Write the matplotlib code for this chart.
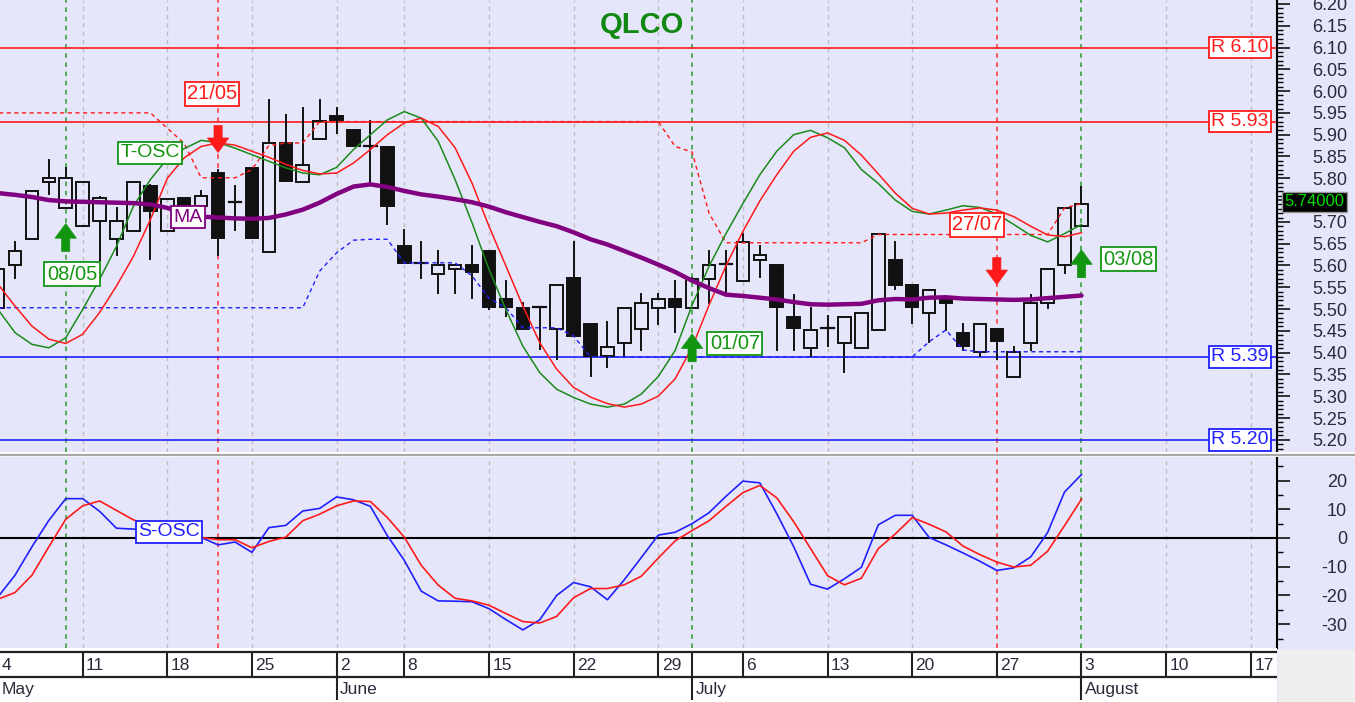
import matplotlib
matplotlib.use("Agg")
import matplotlib.pyplot as plt
import matplotlib.transforms as mtrans
from matplotlib.patches import Rectangle
from matplotlib.lines import Line2D

plt.rcParams['font.family'] = ['Liberation Sans', 'DejaVu Sans']

# ---------------- data (trading day index 0 = 4 May) ----------------
opens = [5.503, 5.602, 5.660, 5.791, 5.732, 5.690, 5.702, 5.660, 5.680, 5.782,
         5.680, 5.755, 5.736, 5.811, 5.745, 5.824, 5.631, 5.881, 5.791, 5.890,
         5.944, 5.911, 5.873, 5.871, 5.644, 5.605, 5.581, 5.592, 5.602, 5.633,
         5.524, 5.503, 5.505, 5.455, 5.572, 5.465, 5.392, 5.423, 5.454, 5.502,
         5.522, 5.502, 5.570, 5.604, 5.564, 5.612, 5.602, 5.482, 5.411, 5.457,
         5.423, 5.411, 5.453, 5.612, 5.554, 5.491, 5.524, 5.444, 5.401, 5.455,
         5.344, 5.423, 5.513, 5.602, 5.690]
highs = [5.591, 5.653, 5.770, 5.843, 5.824, 5.791, 5.757, 5.732, 5.791, 5.785,
         5.753, 5.755, 5.770, 5.820, 5.782, 5.824, 5.980, 5.946, 5.961, 5.980,
         5.961, 5.911, 5.931, 5.871, 5.681, 5.653, 5.633, 5.602, 5.644, 5.633,
         5.564, 5.513, 5.505, 5.554, 5.654, 5.465, 5.471, 5.503, 5.534, 5.534,
         5.564, 5.572, 5.633, 5.633, 5.671, 5.644, 5.602, 5.533, 5.503, 5.484,
         5.482, 5.491, 5.671, 5.653, 5.554, 5.543, 5.524, 5.465, 5.465, 5.455,
         5.413, 5.533, 5.591, 5.732, 5.780]
lows = [5.503, 5.572, 5.660, 5.763, 5.732, 5.690, 5.610, 5.625, 5.680, 5.614,
        5.680, 5.736, 5.736, 5.625, 5.682, 5.662, 5.631, 5.793, 5.791, 5.890,
        5.904, 5.873, 5.789, 5.694, 5.605, 5.572, 5.537, 5.537, 5.526, 5.500,
        5.484, 5.455, 5.408, 5.385, 5.437, 5.347, 5.368, 5.392, 5.406, 5.466,
        5.448, 5.502, 5.514, 5.537, 5.564, 5.573, 5.406, 5.406, 5.392, 5.415,
        5.356, 5.411, 5.453, 5.546, 5.467, 5.425, 5.452, 5.406, 5.392, 5.386,
        5.344, 5.406, 5.503, 5.583, 5.690]
closes = [5.591, 5.633, 5.770, 5.801, 5.801, 5.791, 5.755, 5.702, 5.791, 5.724,
          5.753, 5.736, 5.760, 5.663, 5.745, 5.662, 5.881, 5.793, 5.831, 5.931,
          5.933, 5.873, 5.873, 5.736, 5.605, 5.605, 5.601, 5.602, 5.585, 5.505,
          5.505, 5.455, 5.505, 5.554, 5.437, 5.392, 5.413, 5.503, 5.513, 5.522,
          5.505, 5.570, 5.602, 5.604, 5.653, 5.623, 5.504, 5.456, 5.453, 5.457,
          5.482, 5.491, 5.671, 5.556, 5.504, 5.543, 5.514, 5.415, 5.465, 5.427,
          5.402, 5.513, 5.591, 5.732, 5.742]

ma = [5.766, 5.762, 5.757, 5.750, 5.747, 5.746, 5.745, 5.744, 5.743, 5.740,
      5.732, 5.720, 5.712, 5.710, 5.708, 5.707, 5.709, 5.717, 5.728, 5.744,
      5.764, 5.781, 5.786, 5.780, 5.771, 5.763, 5.758, 5.752, 5.745, 5.735,
      5.722, 5.711, 5.700, 5.690, 5.676, 5.660, 5.648, 5.633, 5.618, 5.602,
      5.585, 5.565, 5.548, 5.533, 5.530, 5.526, 5.522, 5.516, 5.511, 5.510,
      5.511, 5.512, 5.520, 5.523, 5.522, 5.526, 5.527, 5.524, 5.523, 5.522,
      5.521, 5.522, 5.525, 5.528, 5.531]

tosc_fast = [5.499, 5.446, 5.419, 5.411, 5.434, 5.499, 5.568, 5.644, 5.736, 5.797,
             5.845, 5.868, 5.887, 5.882, 5.869, 5.854, 5.839, 5.824, 5.812, 5.808,
             5.825, 5.866, 5.900, 5.934, 5.953, 5.938, 5.885, 5.797, 5.698, 5.591,
             5.499, 5.415, 5.354, 5.316, 5.297, 5.282, 5.275, 5.282, 5.305, 5.345,
             5.405, 5.509, 5.598, 5.673, 5.742, 5.808, 5.862, 5.900, 5.910, 5.893,
             5.870, 5.820, 5.788, 5.750, 5.724, 5.718, 5.727, 5.737, 5.733, 5.718,
             5.694, 5.669, 5.654, 5.673, 5.694]
tosc_slow = [5.557, 5.507, 5.461, 5.431, 5.421, 5.442, 5.492, 5.553, 5.621, 5.705,
             5.800, 5.847, 5.873, 5.881, 5.876, 5.862, 5.848, 5.832, 5.818, 5.810,
             5.812, 5.835, 5.866, 5.900, 5.927, 5.938, 5.919, 5.870, 5.789, 5.690,
             5.599, 5.507, 5.423, 5.362, 5.320, 5.298, 5.283, 5.275, 5.282, 5.300,
             5.340, 5.412, 5.509, 5.599, 5.678, 5.748, 5.808, 5.862, 5.894, 5.904,
             5.887, 5.853, 5.810, 5.766, 5.731, 5.718, 5.720, 5.727, 5.732, 5.727,
             5.712, 5.690, 5.670, 5.666, 5.675]

resist = [5.950] * 10 + [5.915, 5.880, 5.801, 5.801, 5.801, 5.820, 5.875, 5.881, 5.881] \
         + [5.930] * 21 + [5.873, 5.860, 5.720] + [5.652] * 9 + [5.671] * 11 + [5.732, 5.742]
support = [5.503] * 19 + [5.587, 5.629, 5.658, 5.660, 5.660, 5.606, 5.606, 5.606, 5.606,
                          5.576, 5.525, 5.503, 5.457, 5.457, 5.457, 5.438] \
          + [5.390] * 20 + [5.425, 5.452, 5.406] + [5.402] * 7

sosc_fast = [-20.5, -13.0, -3.1, 6.1, 13.7, 13.7, 9.3, 3.4, 3.1, 2.6,
             1.8, 1.0, 0.2, -2.4, -1.4, -5.0, 3.6, 4.4, 9.4, 10.3,
             14.3, 13.3, 11.0, 0.8, -7.8, -18.5, -21.9, -22.0, -22.2, -24.6,
             -28.4, -32.0, -28.5, -20.0, -15.5, -17.0, -21.5, -14.5, -6.8, 1.0,
             2.0, 5.0, 8.8, 14.5, 19.8, 19.2, 8.5, -3.0, -16.1, -17.8,
             -14.2, -10.2, 4.6, 7.9, 7.9, 0.2, -2.4, -5.2, -8.1, -11.3,
             -10.4, -6.6, 1.9, 16.0, 22.1]
sosc_slow = [-21.3, -19.0, -13.0, -3.1, 6.5, 11.2, 12.9, 9.6, 6.3, 4.5,
             3.0, 1.5, 0.2, -0.6, -0.6, -3.4, -1.2, 0.3, 6.0, 8.3,
             11.2, 12.9, 12.7, 7.1, 0.3, -9.5, -16.4, -21.0, -21.9, -23.4,
             -26.3, -29.1, -29.6, -27.3, -20.8, -17.6, -17.6, -16.3, -13.3, -7.0,
             -1.0, 2.6, 6.0, 11.0, 15.8, 18.3, 14.0, 5.7, -3.7, -13.1,
             -16.3, -14.0, -3.7, 1.4, 7.1, 4.8, 2.1, -2.8, -5.8, -8.4,
             -10.1, -9.5, -4.6, 4.3, 13.5]

red_levels = [6.10, 5.93]
blue_levels = [5.39, 5.20]
last_price = 5.74

buy_days = [4, 41, 64]
buy_labels = ["08/05", "01/07", "03/08"]
sell_days = [13, 59]
sell_labels = ["21/05", "27/07"]

week_starts = [0, 5, 10, 15, 20, 24, 29, 34, 39, 44, 49, 54, 59, 64, 69, 74]
week_labels = ["4", "11", "18", "25", "2", "8", "15", "22", "29", "6", "13", "20", "27", "3", "10", "17"]
month_starts = [0, 20, 41, 64]
month_labels = ["May", "June", "July", "August"]

# ---------------- styling ----------------
BG = '#e6e6fa'
GREEN = '#129612'
RED = '#ff1a1a'
BLUE = '#2020ff'
PURPLE = '#800080'
TXT = '#2a2a3a'
W, H = 1355, 702
XLIM = (0.118, 75.55)

fig = plt.figure(figsize=(W / 100, H / 100), dpi=100, facecolor=BG)


def add_ax(x0, y0, x1, y1):
    return fig.add_axes([x0 / W, 1 - y1 / H, (x1 - x0) / W, (y1 - y0) / H])


ax = add_ax(0, 0, 1277, 452)
ax2 = add_ax(0, 457, 1277, 648)
axb = add_ax(0, 648, 1277, 702)

for a in (ax, ax2):
    a.set_facecolor(BG)
    a.set_xlim(*XLIM)
    for s in ('top', 'left', 'bottom'):
        a.spines[s].set_visible(False)
    a.spines['right'].set_color('black')
    a.spines['right'].set_linewidth(1.5)
    a.yaxis.tick_right()
    a.tick_params(axis='x', bottom=False, labelbottom=False)
    a.tick_params(axis='y', which='major', length=9.5, width=1.1, pad=41,
                  labelsize=13, labelcolor=TXT)
    a.tick_params(axis='y', which='minor', length=4.5, width=1.0)
    for d in week_starts:
        if d not in buy_days and d not in sell_days:
            a.axvline(d, color='#bdbdbd', lw=1.0, dashes=(3, 3), zorder=1)
    for d in buy_days:
        a.axvline(d, color='#2a9a2a', lw=1.1, dashes=(3, 3), zorder=1)
    for d in sell_days:
        a.axvline(d, color='#ff3030', lw=1.1, dashes=(3, 3), zorder=1)

# ---------------- price panel ----------------
ax.set_ylim(5.172, 6.209)
price_ticks = [5.20 + 0.05 * i for i in range(21)]
ax.set_yticks(price_ticks)
ax.set_yticks([5.18 + 0.01 * i for i in range(103)], minor=True)
# the last-price tag sits where 5.75 would be written
ax.set_yticklabels(["" if abs(t - 5.75) < 1e-6 else "%.2f" % t for t in price_ticks])
plt.setp(ax.get_yticklabels(), ha='right')

days = list(range(len(closes)))

for lv in red_levels:
    ax.axhline(lv, color=RED, lw=1.2, zorder=2)
for lv in blue_levels:
    ax.axhline(lv, color=BLUE, lw=1.2, zorder=2)

# candles
for i in days:
    o, h, l, c = opens[i], highs[i], lows[i], closes[i]
    top, bot = max(o, c), min(o, c)
    if h > top:
        ax.plot([i, i], [top, h], color='#111111', lw=1.4, zorder=3)
    if l < bot:
        ax.plot([i, i], [l, bot], color='#111111', lw=1.4, zorder=3)
    face = '#111111' if c < o else 'none'
    if top - bot < 0.002:
        ax.plot([i - 0.37, i + 0.37], [c, c], color='#111111', lw=1.6, zorder=3)
    else:
        ax.add_patch(Rectangle((i - 0.37, bot), 0.74, top - bot, facecolor=face,
                               edgecolor='#111111', lw=1.4, zorder=3))

ax.plot(days, resist, color=RED, lw=1.0, dashes=(3, 2.5), zorder=4)
ax.plot(days, support, color=BLUE, lw=1.0, dashes=(3, 2.5), zorder=4)
ax.plot(days, tosc_fast, color='#1a8a1a', lw=1.1, zorder=4)
ax.plot(days, tosc_slow, color=RED, lw=1.1, zorder=4)
ax.plot(days, ma, color=PURPLE, lw=3.2, zorder=5, solid_capstyle='round')

# arrows
arrow_tips_buy = [5.696, 5.443, 5.636]
arrow_tips_sell = [5.859, 5.556]
for d, tip in zip(buy_days, arrow_tips_buy):
    ax.annotate('', xy=(d, tip), xytext=(d, tip - 0.064),
                arrowprops=dict(arrowstyle='simple,head_width=1.1,head_length=0.75,tail_width=0.42',
                                fc=GREEN, ec=GREEN, lw=0.5, mutation_scale=14,
                                shrinkA=0, shrinkB=0), zorder=7)
for d, tip in zip(sell_days, arrow_tips_sell):
    ax.annotate('', xy=(d, tip), xytext=(d, tip + 0.062),
                arrowprops=dict(arrowstyle='simple,head_width=1.1,head_length=0.75,tail_width=0.42',
                                fc=RED, ec=RED, lw=0.5, mutation_scale=14,
                                shrinkA=0, shrinkB=0), zorder=7)


def tag(a, x, y, s, color, size=14, ha='center'):
    a.text(x, y, s, color=color, fontsize=size, ha=ha, va='center', zorder=8,
           bbox=dict(boxstyle='square,pad=0.12', fc='white', ec=color, lw=1.3))


tag(ax, 12.64, 5.994, sell_labels[0], RED, 14.5)
tag(ax, 57.83, 5.693, sell_labels[1], RED, 14.5)
tag(ax, 4.37, 5.580, buy_labels[0], GREEN, 14.5)
tag(ax, 43.53, 5.421, buy_labels[1], GREEN, 14.5)
tag(ax, 66.8, 5.614, buy_labels[2], GREEN, 14.5)
tag(ax, 9.0, 5.858, "T-OSC", GREEN, 14)
tag(ax, 11.25, 5.711, "MA", PURPLE, 14)

# level boxes on the right
right = mtrans.blended_transform_factory(ax.transAxes, ax.transData)
for lv, col in [(red_levels[0], RED), (red_levels[1], RED), (blue_levels[0], BLUE), (blue_levels[1], BLUE)]:
    ax.text(0.9935, lv, "R %.2f" % lv, transform=right, ha='right', va='center',
            color=col, fontsize=14, zorder=8,
            bbox=dict(boxstyle='square,pad=0.12', fc='white', ec=col, lw=1.3))

ax.text(1.0055, last_price + 0.006, "%.5f" % last_price, transform=right, ha='left',
        va='center', color='#00dd00', fontsize=12, clip_on=False, zorder=9,
        bbox=dict(boxstyle='square,pad=0.15', fc='black', ec='#999999', lw=1))

ax.text(0.5027, 0.945, "QLCO", transform=ax.transAxes, ha='center', va='center',
        color='#118811', fontsize=21, fontweight='bold')

# ---------------- oscillator panel ----------------
ax2.set_ylim(-38.3, 28.2)
ax2.set_yticks([-30, -20, -10, 0, 10, 20])
ax2.set_yticks([-35, -30, -25, -20, -15, -10, -5, 0, 5, 10, 15, 20, 25], minor=True)
ax2.set_yticklabels(["-30", "-20", "-10", "0", "10", "20"])
plt.setp(ax2.get_yticklabels(), ha='right')
ax2.axhline(0, color='black', lw=1.5, zorder=2)
ax2.plot(days, sosc_fast, color=BLUE, lw=1.2, zorder=4)
ax2.plot(days, sosc_slow, color=RED, lw=1.2, zorder=4)
tag(ax2, 10.1, 2.2, "S-OSC", BLUE, 14)

# ---------------- date band ----------------
axb.set_facecolor('white')
axb.set_xlim(*XLIM)
axb.set_ylim(0, 1)
axb.axis('off')
axb.add_patch(Rectangle((0, 0), 1, 1, transform=axb.transAxes, fc='white', ec='none', zorder=0))
y_top, y_mid = 0.926, 0.463
axb.axhline(y_top, color='#222222', lw=1.6)
axb.axhline(y_mid, color='#222222', lw=1.6)
seps = sorted(set(week_starts + month_starts))
axb.vlines(seps, y_mid, y_top, color='#222222', lw=1.5)
axb.vlines(month_starts, 0.03, y_mid, color='#222222', lw=1.5)
for d, lab in zip(week_starts, week_labels):
    axb.text(d + 0.2, (y_top + y_mid) / 2 - 0.02, lab, fontsize=12.5, color=TXT,
             ha='left', va='center')
for d, lab in zip(month_starts, month_labels):
    axb.text(d + 0.2, y_mid / 2, lab, fontsize=12.5, color=TXT, ha='left', va='center')

# figure-level separators
fig.patches.append(Rectangle((1278 / W, 0), (W - 1278) / W, 52 / H, transform=fig.transFigure,
                             fc='#efefef', ec='none', zorder=0))
fig.patches.append(Rectangle((0, 1 - 457 / H), 1, 5 / H, transform=fig.transFigure,
                             fc='white', ec='none', zorder=0))
fig.add_artist(Line2D([0, 1], [1 - 454.5 / H] * 2, transform=fig.transFigure,
                      color='#a8a8a8', lw=1.6))

fig.savefig("out.png", dpi=100, facecolor=BG)
